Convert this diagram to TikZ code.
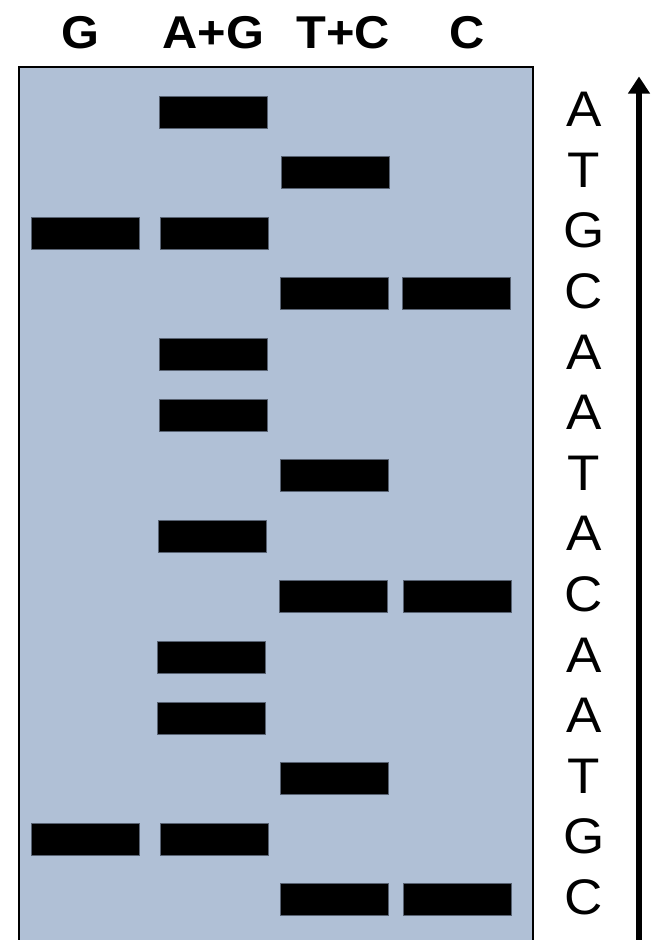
\documentclass[tikz,border=0pt]{standalone}
\usepackage{fontspec}
\setmainfont{Liberation Sans}
\newfontfamily\headfont{Liberation Sans}[FakeStretch=1.06]
\newfontfamily\basefont{Liberation Sans}[FakeStretch=1.06]
\usetikzlibrary{arrows.meta}
\definecolor{gelblue}{RGB}{176,192,214}
\definecolor{bandedge}{RGB}{88,98,114}
\tikzset{
  gel/.style={draw=black, line width=2pt, fill=gelblue},
  band/.style={draw=bandedge, line width=0.8pt, fill=black, inner sep=0pt,
    minimum height=32pt, minimum width=108pt},
  lanehead/.style={font=\headfont\bfseries\fontsize{46}{46}\selectfont, anchor=base, inner sep=0pt},
  baselabel/.style={font=\basefont\fontsize{50}{50}\selectfont, inner sep=0pt},
  readarrow/.style={line width=6pt, -{Triangle[length=17pt, width=21pt]}}
}
\begin{document}
\begin{tikzpicture}[x=1pt, y=-1pt]
\useasboundingbox (0,0) rectangle (651,940);
% gel slab
\draw[gel] (18.5,67) rectangle (533,960);
% lane headings
\node[lanehead] (hG)  at (80.5,48)  {G};
\node[lanehead] (hAG) at (213.5,48) {A+G};
\node[lanehead] (hTC) at (343,48)   {T+C};
\node[lanehead] (hC)  at (467,48)   {C};
% bands, row by row (row spacing 60.6)
\node[band] (r1ag)  at (213.5,112.0) {};
\node[band] (r2tc)  at (335,172.6) {};
\node[band] (r3g)   at (85.5,233.2) {};
\node[band] (r3ag)  at (214,233.2) {};
\node[band] (r4tc)  at (334.5,293.8) {};
\node[band] (r4c)   at (456.5,293.8) {};
\node[band] (r5ag)  at (213,354.4) {};
\node[band] (r6ag)  at (213,415.0) {};
\node[band] (r7tc)  at (334.5,475.6) {};
\node[band] (r8ag)  at (212,536.2) {};
\node[band] (r9tc)  at (333,596.8) {};
\node[band] (r9c)   at (457,596.8) {};
\node[band] (r10ag) at (211,657.4) {};
\node[band] (r11ag) at (211,718.0) {};
\node[band] (r12tc) at (334.5,778.6) {};
\node[band] (r13g)  at (85.5,839.2) {};
\node[band] (r13ag) at (214,839.2) {};
\node[band] (r14tc) at (334,899.8) {};
\node[band] (r14c)  at (457,899.8) {};
% sequence read from the gel
\node[baselabel] (s1)  at (584,109.5) {A};
\node[baselabel] (s2)  at (584,170.1) {T};
\node[baselabel] (s3)  at (584,230.7) {G};
\node[baselabel] (s4)  at (584,291.3) {C};
\node[baselabel] (s5)  at (584,351.9) {A};
\node[baselabel] (s6)  at (584,412.5) {A};
\node[baselabel] (s7)  at (584,473.1) {T};
\node[baselabel] (s8)  at (584,533.7) {A};
\node[baselabel] (s9)  at (584,594.3) {C};
\node[baselabel] (s10) at (584,654.9) {A};
\node[baselabel] (s11) at (584,715.5) {A};
\node[baselabel] (s12) at (584,776.1) {T};
\node[baselabel] (s13) at (584,836.7) {G};
\node[baselabel] (s14) at (584,897.3) {C};
% reading direction
\coordinate (arrowfoot) at (639,945);
\coordinate (arrowtip) at (639,76.5);
\draw[readarrow] (arrowfoot) -- (arrowtip);
\end{tikzpicture}
\end{document}
